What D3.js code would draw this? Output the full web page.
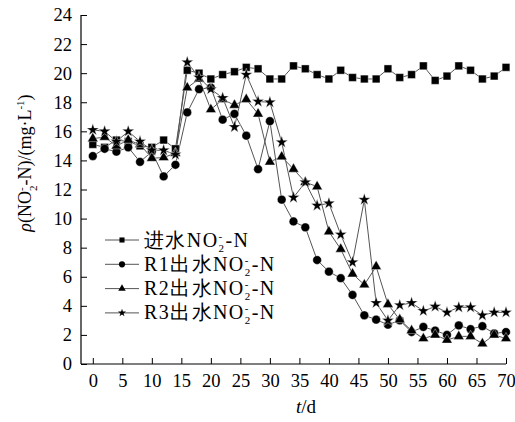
<!DOCTYPE html>
<html><head><meta charset="utf-8">
<script src="https://cdn.jsdelivr.net/npm/d3@7"></script>
<style>body{margin:0;background:#fff}svg{display:block}</style>
</head><body>
<svg id="c" width="515" height="422"></svg>
<script>
const days = d3.range(0, 71, 2);
const seriesNames = ["进水", "R1出水", "R2出水", "R3出水"];
const influent = [15.1,14.9,15.4,15.3,15.0,14.9,15.4,14.8,20.2,20.0,19.6,19.9,20.1,20.4,20.3,19.6,19.6,20.5,20.3,19.9,19.6,20.2,19.7,19.6,19.6,20.3,19.7,19.9,20.5,19.5,19.8,20.5,20.2,19.6,19.8,20.4];
const r1 = [14.3,14.8,14.6,14.9,13.9,14.6,12.9,13.7,17.3,18.9,19.0,16.8,17.2,15.7,13.4,16.7,11.3,9.8,9.4,7.15,6.35,5.9,4.75,3.35,3.05,2.7,3.0,2.2,2.55,2.3,2.0,2.65,2.4,2.6,2.1,2.2];
const r2 = [15.5,15.6,15.0,15.4,15.1,14.15,14.2,14.5,19.0,19.6,17.5,18.2,17.8,18.2,17.2,13.9,14.25,13.4,12.5,12.2,9.1,7.9,6.2,5.45,6.7,4.1,3.05,2.3,1.75,2.0,1.65,1.9,1.9,1.4,2.0,1.75];
const r3 = [16.1,16.0,15.3,16.0,15.3,14.7,14.7,14.4,20.75,19.7,18.9,18.3,16.3,19.9,18.05,18.0,15.25,11.45,12.5,10.9,11.05,8.9,7.0,11.3,4.2,3.0,4.05,4.2,3.65,3.95,3.55,3.9,3.9,3.35,3.55,3.55];
const xTicks = d3.range(0, 71, 5);
const yTicks = d3.range(0, 25, 2);

const FONT = '"Liberation Serif", "Times New Roman", serif';
const svg = d3.select("#c");
const x = d3.scaleLinear().domain([-2, 70]).range([81, 506]);
const y = d3.scaleLinear().domain([0, 24]).range([364, 15]);

const series = [
  {name: seriesNames[0], vals: influent, sym: d3.symbolSquare, size: 60, lsize: 26},
  {name: seriesNames[1], vals: r1, sym: d3.symbolCircle, size: 60, lsize: 30},
  {name: seriesNames[2], vals: r2, sym: d3.symbolTriangle, size: 48, lsize: 24},
  {name: seriesNames[3], vals: r3, sym: d3.symbolStar, size: 46, lsize: 20}
];

const xAxis = d3.axisBottom(x).tickValues(xTicks).tickSize(-6).tickPadding(10).tickSizeOuter(0);
const yAxis = d3.axisLeft(y).tickValues(yTicks).tickSize(-6).tickPadding(9).tickSizeOuter(0);
const gx = svg.append("g").attr("transform", "translate(0,364)").call(xAxis);
const gy = svg.append("g").attr("transform", "translate(81,0)").call(yAxis);
[gx, gy].forEach(g => {
  g.select(".domain").attr("stroke", "#000").attr("stroke-width", 1.2);
  g.selectAll(".tick line").attr("stroke", "#000").attr("stroke-width", 1);
  g.selectAll(".tick text").style("font-family", FONT).style("font-size", "18.5px").attr("fill", "#000");
});
gx.select(".domain").attr("d", "M81,0H506");
gy.select(".domain").attr("d", "M0,15V364");

const line = d3.line().x((d, i) => x(days[i])).y(d => y(d));
series.forEach(s => {
  svg.append("path").datum(s.vals).attr("d", line)
    .attr("fill", "none").attr("stroke", "#555").attr("stroke-width", 1);
});
series.forEach(s => {
  svg.append("g").selectAll("path").data(s.vals).join("path")
    .attr("transform", (d, i) => `translate(${x(days[i])},${y(d)})`)
    .attr("d", d3.symbol().type(s.sym).size(s.size))
    .attr("fill", "#000").attr("stroke", "#fff").attr("stroke-width", 0.4);
});

const lg = svg.append("g");
series.forEach((s, i) => {
  const ly = 240 + i * 24.3;
  lg.append("line").attr("x1", 105).attr("x2", 139).attr("y1", ly).attr("y2", ly)
    .attr("stroke", "#555").attr("stroke-width", 1);
  lg.append("path").attr("transform", `translate(122,${ly})`)
    .attr("d", d3.symbol().type(s.sym).size(s.lsize)).attr("fill", "#000");
  const t = lg.append("text").attr("x", 144).attr("y", ly + 6.5)
    .style("font-family", FONT).style("font-size", "20px").style("letter-spacing", "1.4px").attr("fill", "#000");
  t.append("tspan").text(s.name + "NO");
  t.append("tspan").style("font-size", "11px").attr("dy", -7).text("-");
  t.append("tspan").style("font-size", "11px").attr("dx", -5).attr("dy", 12).text("2");
  t.append("tspan").attr("dy", -5).text("-N");
});

const yl = svg.append("text").attr("transform", "translate(31,163) rotate(-90)")
  .attr("text-anchor", "middle").style("font-family", FONT).style("font-size", "18px").attr("fill", "#000");
yl.append("tspan").style("font-style", "italic").text("ρ");
yl.append("tspan").text("(NO");
yl.append("tspan").style("font-size", "11px").attr("dy", -6).text("-");
yl.append("tspan").style("font-size", "11px").attr("dx", -3.7).attr("dy", 12).text("2");
yl.append("tspan").attr("dy", -6).text("-N)/(mg·L");
yl.append("tspan").style("font-size", "11px").attr("dy", -7).text("-1");
yl.append("tspan").attr("dy", 7).text(")");

const xl = svg.append("text").attr("x", 306).attr("y", 413).attr("text-anchor", "middle")
  .style("font-family", FONT).style("font-size", "19px").attr("fill", "#000");
xl.append("tspan").style("font-style", "italic").text("t");
xl.append("tspan").text("/d");
</script>
</body></html>
